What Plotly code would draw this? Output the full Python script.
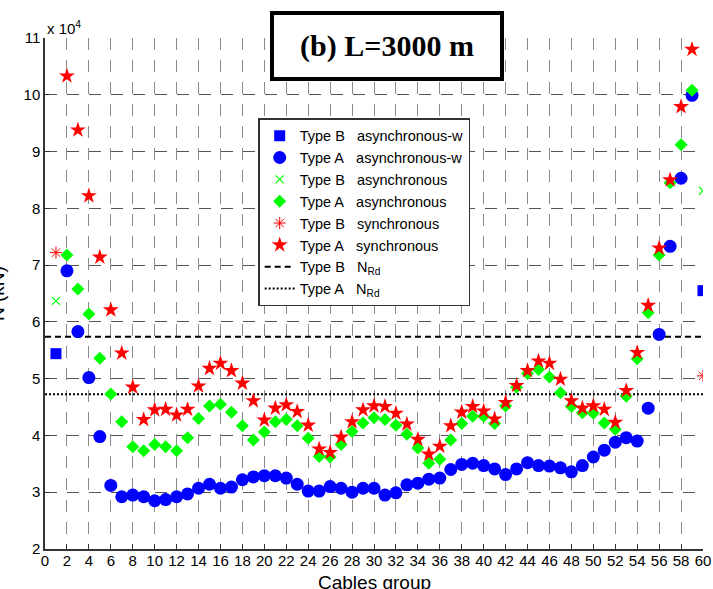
import plotly.graph_objects as go

# Cable groups
groups_A = list(range(2, 60))
groups_B = [1, 60]

# Axial forces (x 10^4 N) per cable group
typeA_async_w = [6.90, 5.83, 5.02, 3.98, 3.12, 2.92, 2.95, 2.92, 2.85, 2.87, 2.92, 2.97, 3.07, 3.14,
                 3.07, 3.09, 3.22, 3.27, 3.29, 3.29, 3.25, 3.14, 3.02, 3.02, 3.10, 3.07, 3.00, 3.07,
                 3.07, 2.95, 2.99, 3.13, 3.16, 3.23, 3.25, 3.40, 3.49, 3.51, 3.47, 3.41, 3.31, 3.41,
                 3.52, 3.47, 3.46, 3.43, 3.36, 3.47, 3.62, 3.74, 3.88, 3.96, 3.90, 4.48, 5.78, 7.33,
                 8.53, 9.99]
typeA_async = [7.18, 6.58, 6.14, 5.36, 4.73, 4.24, 3.80, 3.73, 3.84, 3.80, 3.73, 3.96, 4.30, 4.52,
               4.55, 4.41, 4.17, 3.92, 4.06, 4.24, 4.28, 4.17, 3.95, 3.63, 3.62, 3.84, 4.07, 4.22,
               4.31, 4.28, 4.18, 4.02, 3.78, 3.51, 3.58, 3.92, 4.21, 4.34, 4.34, 4.21, 4.52, 4.85,
               5.09, 5.16, 5.03, 4.75, 4.51, 4.40, 4.39, 4.22, 4.11, 4.69, 5.35, 6.16, 7.18, 8.45,
               9.12, 10.08]
typeA_sync = [10.33, 9.38, 8.22, 7.14, 6.21, 5.45, 4.85, 4.28, 4.45, 4.46, 4.36, 4.46, 4.87, 5.18,
              5.27, 5.14, 4.92, 4.61, 4.27, 4.48, 4.54, 4.42, 4.18, 3.76, 3.70, 3.97, 4.24, 4.45,
              4.52, 4.51, 4.39, 4.20, 3.93, 3.67, 3.81, 4.17, 4.41, 4.51, 4.43, 4.29, 4.58, 4.88,
              5.14, 5.31, 5.27, 4.99, 4.61, 4.48, 4.52, 4.46, 4.23, 4.79, 5.46, 6.29, 7.30, 8.50,
              9.79, 10.80]
typeB_async_w = [5.44, 6.55]
typeB_async = [6.37, 8.31]
typeB_sync = [7.22, 5.05]

# Design resistances N_Rd
nrd_B = 5.74
nrd_A = 4.725

SCALE = 1e4
x_limits = [0, 60]
y_ticks = list(range(2, 12))
x_ticks = list(range(0, 61, 2))


def scaled(vals):
    return [v * SCALE for v in vals]


LABEL_FONT = "Liberation Sans, Arial, sans-serif"
SP = "\u00a0\u00a0\u00a0"

BLUE, GREEN, RED = "#0000ff", "#00ff00", "#ff0000"

fig = go.Figure()

# Resistance levels
fig.add_trace(go.Scatter(x=x_limits, y=scaled([nrd_B, nrd_B]), mode="lines",
                         line=dict(color="black", width=2, dash="6px,4px"),
                         name=f"Type B{SP}N<sub>Rd</sub>", legendrank=7))
fig.add_trace(go.Scatter(x=x_limits, y=scaled([nrd_A, nrd_A]), mode="lines",
                         line=dict(color="black", width=2, dash="2px,2px"),
                         name=f"Type A{SP}N<sub>Rd</sub>", legendrank=8))

# Asynchronous with wind
fig.add_trace(go.Scatter(x=groups_B, y=scaled(typeB_async_w), mode="markers",
                         marker=dict(symbol="square", size=11, color=BLUE),
                         name=f"Type B{SP}asynchronous-w", legendrank=1))
fig.add_trace(go.Scatter(x=groups_A, y=scaled(typeA_async_w), mode="markers",
                         marker=dict(symbol="circle", size=13, color=BLUE),
                         name=f"Type A{SP}asynchronous-w", legendrank=2))
# Asynchronous
fig.add_trace(go.Scatter(x=groups_B, y=scaled(typeB_async), mode="markers",
                         marker=dict(symbol="x-thin-open", size=8, color=GREEN,
                                     line=dict(color=GREEN, width=1.2)),
                         name=f"Type B{SP}asynchronous", legendrank=3))
fig.add_trace(go.Scatter(x=groups_A, y=scaled(typeA_async), mode="markers",
                         marker=dict(symbol="diamond", size=10, color=GREEN),
                         name=f"Type A{SP}asynchronous", legendrank=4))
# Synchronous
fig.add_trace(go.Scatter(x=groups_B, y=scaled(typeB_sync), mode="markers",
                         marker=dict(symbol="asterisk-open", size=10, color=RED,
                                     line=dict(color=RED, width=1)),
                         name=f"Type B{SP}synchronous", legendrank=5))
fig.add_trace(go.Scatter(x=groups_A, y=scaled(typeA_sync), mode="markers",
                         marker=dict(symbol="star", size=12, color=RED),
                         name=f"Type A{SP}synchronous", legendrank=6))

fig.update_layout(
    width=713, height=589,
    margin=dict(l=44.5, r=10, t=38, b=40),
    paper_bgcolor="white", plot_bgcolor="white",
    font=dict(family=LABEL_FONT, size=15, color="black"),
    showlegend=True,
    legend=dict(x=0.324, y=0.843, xanchor="left", yanchor="top",
                bgcolor="white", bordercolor="#333333", borderwidth=1.5,
                font=dict(family=LABEL_FONT, size=14.5, color="black"),
                itemwidth=30, tracegroupgap=0),
    xaxis=dict(range=x_limits, tickvals=x_ticks, ticktext=[str(t) for t in x_ticks],
               showline=True, linecolor="#333333", linewidth=1.5, mirror=False,
               ticks="inside", ticklen=5, tickcolor="#333333", ticklabelstandoff=-3,
               showgrid=True, gridcolor="#8a8a8a", gridwidth=1, griddash="12px,10px",
               zeroline=False, tickfont=dict(size=15), automargin=False),
    yaxis=dict(range=[2 * SCALE, 11 * SCALE], tickvals=[t * SCALE for t in y_ticks],
               ticktext=[str(t) for t in y_ticks],
               showline=True, linecolor="#333333", linewidth=1.5, mirror=False,
               ticks="inside", ticklen=5, tickcolor="#333333",
               showgrid=True, gridcolor="#555555", gridwidth=1, griddash="12px,10px",
               zeroline=False, tickfont=dict(size=15), automargin=False),
)

annotations = [
    # axis exponent
    dict(text="x 10<sup>4</sup>", xref="paper", yref="paper", x=0.0, y=1.0,
         xanchor="left", yanchor="bottom", yshift=-1, showarrow=False,
         font=dict(family=LABEL_FONT, size=15, color="black")),
    # x axis title
    dict(text="Cables group", xref="paper", yref="paper", x=0.5, y=-0.042,
         xanchor="center", yanchor="top", showarrow=False,
         font=dict(family=LABEL_FONT, size=19, color="black")),
    # y axis title, running off the left edge
    dict(text="N (kN)", xref="paper", yref="paper", x=-0.0721, y=0.5,
         xanchor="center", yanchor="middle", textangle=-90, showarrow=False,
         font=dict(family=LABEL_FONT, size=19, color="black")),
    # panel title
    dict(text="<b>(b) L=3000 m</b>", xref="paper", yref="paper", x=0.519, y=0.984,
         xanchor="center", yanchor="middle", showarrow=False,
         width=222, height=58, borderpad=2, borderwidth=4,
         bordercolor="black", bgcolor="white",
         font=dict(family="Liberation Serif, Times New Roman, serif", size=30, color="black")),
]
fig.update_layout(annotations=annotations)

fig.write_html("out.html")
